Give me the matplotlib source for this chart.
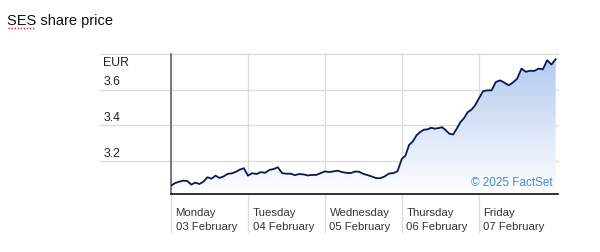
import numpy as np
import matplotlib.pyplot as plt
from matplotlib.colors import LinearSegmentedColormap
from matplotlib.patches import Polygon
import matplotlib.transforms as mtransforms

plt.rcParams['font.family'] = ['Liberation Sans', 'DejaVu Sans']

# intraday prices (EUR), one list per trading day
mon = [3.061, 3.075, 3.083, 3.089, 3.087, 3.067, 3.078, 3.070, 3.083, 3.108,
       3.100, 3.117, 3.104, 3.113, 3.127, 3.130, 3.138, 3.151, 3.159]
tue = [3.117, 3.131, 3.126, 3.137, 3.133, 3.149, 3.154, 3.164, 3.131, 3.128,
       3.128, 3.120, 3.126, 3.124, 3.118, 3.121, 3.121, 3.131]
wed = [3.141, 3.137, 3.141, 3.145, 3.137, 3.133, 3.131, 3.140, 3.139, 3.127,
       3.120, 3.112, 3.103, 3.103, 3.113, 3.129, 3.131, 3.142]
thu = [3.211, 3.230, 3.290, 3.309, 3.343, 3.362, 3.375, 3.377, 3.386, 3.381,
       3.384, 3.389, 3.372, 3.352, 3.348, 3.381, 3.418, 3.440, 3.474, 3.487, 3.512]
fri = [3.549, 3.591, 3.596, 3.596, 3.643, 3.652, 3.639, 3.624, 3.640, 3.662,
       3.718, 3.700, 3.706, 3.705, 3.718, 3.714, 3.765, 3.741, 3.771]
days = [mon, tue, wed, thu, fri]
day_labels = ['Monday\n03 February', 'Tuesday\n04 February', 'Wednesday\n05 February',
              'Thursday\n06 February', 'Friday\n07 February']
yticks = [3.2, 3.4, 3.6]

xs, ys = [], []
for d, vals in enumerate(days):
    last = d == len(days) - 1
    xs.extend(np.linspace(d, d + 1, len(vals), endpoint=last))
    ys.extend(vals)
xs = np.array(xs)
ys = np.array(ys)

ymin, ymax = 3.014, 3.8
xmax = 5.03

fig = plt.figure(figsize=(6, 2.53), dpi=100)
ax = fig.add_axes([171 / 600, 1 - 195 / 253, 387 / 600, 140 / 253])
ax.set_xlim(0, xmax)
ax.set_ylim(ymin, ymax)

grid_c = '#dcdcdc'
# horizontal grid, running out under the y labels
tr = mtransforms.blended_transform_factory(ax.transAxes, ax.transData)
for v in yticks + [3.8]:
    ax.plot([-0.183, 1], [v, v], color=grid_c, lw=1, transform=tr, clip_on=False, zorder=0)
# vertical day separators, running down between the x labels
trv = mtransforms.blended_transform_factory(ax.transData, ax.transAxes)
for d in range(len(days)):
    ax.plot([d, d], [-0.27, 1], color=grid_c, lw=1, transform=trv, clip_on=False, zorder=0)

# gradient fill under the line
cmap = LinearSegmentedColormap.from_list('fill', ['#ffffff', '#b0c8ef'])
grad = np.linspace(0, 1, 256).reshape(-1, 1)
img = ax.imshow(grad, cmap=cmap, aspect='auto', origin='lower',
                extent=[0, xmax, ymin, ymax], zorder=1)
poly = Polygon(np.column_stack([np.r_[xs[0], xs, xs[-1]], np.r_[ymin, ys, ymin]]),
               closed=True, facecolor='none', edgecolor='none')
ax.add_patch(poly)
img.set_clip_path(poly)

ax.plot(xs, ys, color='#061a55', lw=1.3, zorder=3)

for s in ['top', 'right']:
    ax.spines[s].set_visible(False)
ax.spines['left'].set_color('#666666')
ax.spines['left'].set_linewidth(1.2)
ax.spines['bottom'].set_color('#111111')
ax.spines['bottom'].set_linewidth(1.2)
ax.set_xticks([])
ax.set_yticks([])

# y labels
for v in yticks:
    ax.text(-0.175, v + 0.012, f'{v:.1f}', transform=tr, fontsize=8.8,
            ha='left', va='bottom', color='#222222')
ax.text(-0.175, 3.8 - 0.012, 'EUR', transform=tr, fontsize=8.8,
        ha='left', va='top', color='#222222')

# x labels
for d, lab in enumerate(day_labels):
    ax.text(d + 0.06, -0.095, lab, transform=trv, fontsize=8.2, ha='left', va='top',
            color='#333333', linespacing=1.45)

ax.text(0.985, 0.04, '\u00a9 2025 FactSet', transform=ax.transAxes, fontsize=8.5,
        ha='right', va='bottom', color='#3a8ddb', zorder=4)

fig.text(7 / 600, 1 - 21 / 253, 'SES share price', fontsize=10.5, ha='left',
         va='center', color='#111111')
fig.add_artist(plt.Line2D([8 / 600, 34 / 600], [1 - 29 / 253, 1 - 29 / 253],
                          color='#d02020', lw=1, ls=(0, (1, 1.2))))

fig.savefig('out.png', dpi=100)
